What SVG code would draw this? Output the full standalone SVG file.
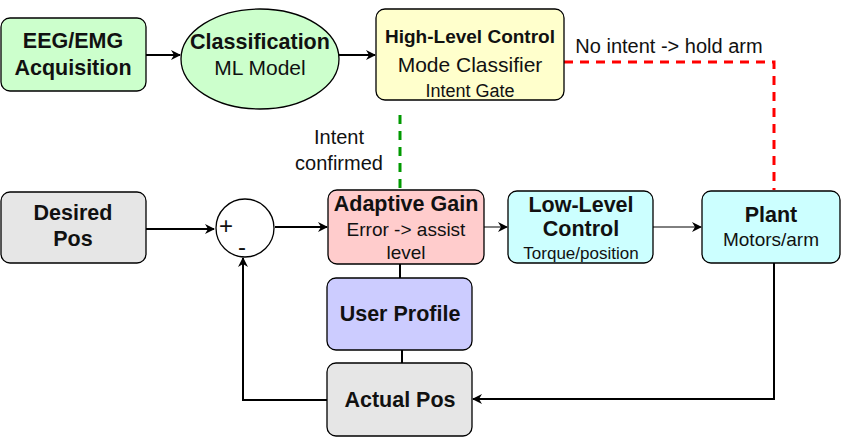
<svg xmlns="http://www.w3.org/2000/svg" width="847" height="438" viewBox="0 0 847 438">
<style>
.n{stroke:#000;stroke-width:1.3}
text{font-family:"Liberation Sans",Arial,sans-serif;text-anchor:middle;fill:#111}
.b{font-weight:bold;font-size:21.5px}
.r{font-size:21px}
.s{font-size:17px}
.c{fill:none;stroke:#000;stroke-width:2}
</style>
<defs>
<marker id="a" markerWidth="10" markerHeight="10" refX="9" refY="5" orient="auto" markerUnits="userSpaceOnUse"><path d="M0,0 L10,5 L0,10 L3,5 Z" fill="#000"/></marker>
</defs>
<rect width="847" height="438" fill="#fff"/>
<g id="connectors">
<path class="c" d="M146,55 H180" marker-end="url(#a)"/>
<path class="c" d="M339,55 H375" marker-end="url(#a)"/>
<path class="c" d="M146,229 H214" marker-end="url(#a)"/>
<path class="c" d="M275,227 H327" marker-end="url(#a)"/>
<path class="c" style="stroke-width:1" d="M484,227 H507" marker-end="url(#a)"/>
<path class="c" style="stroke-width:1" d="M653,227 H701" marker-end="url(#a)"/>
<path class="c" d="M400,264 V278"/>
<path class="c" d="M402,350 V363"/>
<path class="c" d="M774,263 V399 H473" marker-end="url(#a)"/>
<path class="c" d="M327,400 H243 V258" marker-end="url(#a)"/>
<path d="M400,115 V188" fill="none" stroke="#009900" stroke-width="3" stroke-dasharray="9,7"/>
<path d="M564,62 H774 V190" fill="none" stroke="#ff0000" stroke-width="3" stroke-dasharray="9,7"/>
<text class="r" style="font-size:20px" x="339" y="144">Intent</text>
<text class="r" style="font-size:20px" x="339" y="170">confirmed</text>
<text class="r" style="font-size:20px" x="669" y="53">No intent -&gt; hold arm</text>
</g>
<g id="eeg"><rect class="n" x="1" y="18" width="145" height="73" rx="9" fill="#ccffcc"/><text class="b" x="73" y="48">EEG/EMG</text><text class="b" x="73" y="75">Acquisition</text></g>
<g id="classification"><ellipse class="n" cx="260" cy="59" rx="79" ry="50" fill="#ccffcc"/><text class="b" x="260" y="49">Classification</text><text class="r" x="260" y="75">ML Model</text></g>
<g id="highlevel"><rect class="n" x="376" y="9" width="188" height="91" rx="9" fill="#ffffcc"/><text class="b" style="font-size:19px" x="470" y="43">High-Level Control</text><text class="r" x="470" y="72">Mode Classifier</text><text class="s" style="font-size:18px" x="470" y="97">Intent Gate</text></g>
<g id="desired"><rect class="n" x="1" y="192" width="145" height="71" rx="9" fill="#e6e6e6"/><text class="b" x="73" y="220">Desired</text><text class="b" x="73" y="246">Pos</text></g>
<g id="sum"><circle class="n" cx="245" cy="228" r="29" fill="#fff"/><text class="r" style="font-size:24px" x="226" y="234">+</text><text class="r" style="font-size:24px" x="242" y="255">-</text></g>
<g id="adaptive"><rect class="n" x="328" y="190" width="156" height="74" rx="9" fill="#ffcccc"/><text class="b" x="406" y="211">Adaptive Gain</text><text class="r" style="font-size:19px" x="406" y="236">Error -&gt; assist</text><text class="r" style="font-size:19px" x="406" y="259">level</text></g>
<g id="lowlevel"><rect class="n" x="508" y="191" width="145" height="72" rx="9" fill="#ccffff"/><text class="b" x="581" y="212">Low-Level</text><text class="b" x="581" y="236">Control</text><text class="s" x="581" y="259">Torque/position</text></g>
<g id="plant"><rect class="n" x="702" y="191" width="138" height="72" rx="9" fill="#ccffff"/><text class="b" x="771" y="222">Plant</text><text class="r" style="font-size:19px" x="771" y="246">Motors/arm</text></g>
<g id="userprofile"><rect class="n" x="327" y="278" width="145" height="72" rx="9" fill="#ccccff"/><text class="b" x="400" y="321">User Profile</text></g>
<g id="actual"><rect class="n" x="327" y="363" width="145" height="73" rx="9" fill="#e6e6e6"/><text class="b" x="400" y="407">Actual Pos</text></g>
</svg>
